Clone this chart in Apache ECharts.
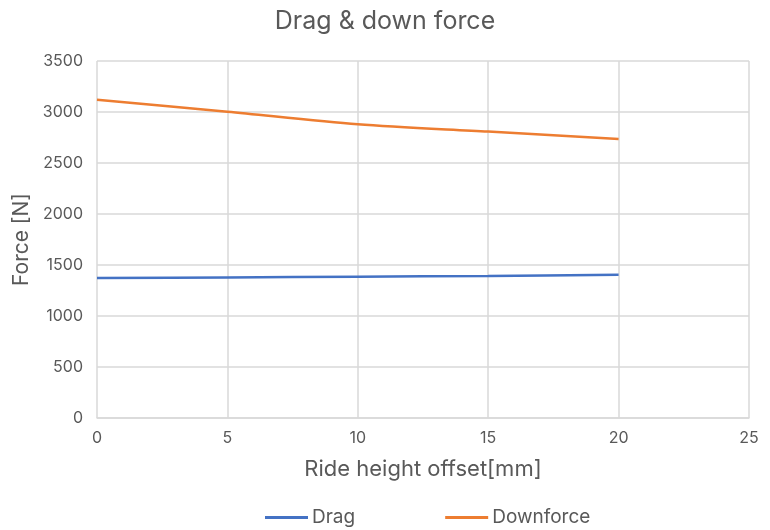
<!DOCTYPE html>
<html>
<head>
<meta charset="utf-8">
<script src="https://cdn.jsdelivr.net/npm/echarts@6/dist/echarts.min.js"></script>
<style>
  html, body { margin: 0; padding: 0; background: #fff; }
  #chart { width: 770px; height: 530px; }
</style>
</head>
<body>
<div id="chart"></div>
<script>
// data
var rideHeight = [0, 5, 10, 15, 20];
var drag = [1372, 1378, 1386, 1393, 1405];
var downforce = [3120, 3003, 2880, 2808, 2735];

function pairs(xs, ys) {
    return xs.map(function (x, i) { return [x, ys[i]]; });
}

var font = 'Inter, "Noto Sans", sans-serif';
var grey = '#595959';

var chart = echarts.init(document.getElementById('chart'));
chart.setOption({
    animation: false,
    textStyle: { fontFamily: font },
    title: {
        text: 'Drag & down force',
        left: 'center',
        top: 4,
        textStyle: { fontSize: 25, fontWeight: 'normal', color: grey, fontFamily: font }
    },
    grid: { left: 97, right: 21, top: 61, bottom: 112 },
    legend: {
        top: 503,
        left: 260,
        itemGap: 90,
        itemWidth: 43,
        itemHeight: 3,
        icon: 'rect',
        textStyle: { fontSize: 19, color: grey, padding: [0, 0, 0, -1] },
        data: ['Drag', 'Downforce']
    },
    xAxis: {
        type: 'value',
        min: 0,
        max: 25,
        interval: 5,
        name: 'Ride height offset[mm]',
        nameLocation: 'middle',
        nameGap: 40,
        nameTextStyle: { fontSize: 22, color: grey },
        axisLine: { lineStyle: { color: '#d9d9d9', width: 1.5 } },
        axisTick: { show: false },
        axisLabel: { fontSize: 16, color: grey, margin: 12 },
        splitLine: { lineStyle: { color: '#d9d9d9', width: 1.5 } }
    },
    yAxis: {
        type: 'value',
        min: 0,
        max: 3500,
        interval: 500,
        name: 'Force [N]',
        nameLocation: 'middle',
        nameGap: 64,
        nameTextStyle: { fontSize: 21, color: grey },
        axisLine: { show: false },
        axisTick: { show: false },
        axisLabel: { fontSize: 16, color: grey, margin: 14, formatter: function (v) { return String(v); } },
        splitLine: { lineStyle: { color: '#d9d9d9', width: 1.5 } }
    },
    series: [
        {
            name: 'Drag',
            type: 'line',
            data: pairs(rideHeight, drag),
            smooth: 0.3,
            showSymbol: false,
            lineStyle: { color: '#4472C4', width: 2.5 },
            itemStyle: { color: '#4472C4' }
        },
        {
            name: 'Downforce',
            type: 'line',
            data: pairs(rideHeight, downforce),
            smooth: 0.3,
            showSymbol: false,
            lineStyle: { color: '#ED7D31', width: 2.5 },
            itemStyle: { color: '#ED7D31' }
        }
    ]
});
</script>
</body>
</html>
